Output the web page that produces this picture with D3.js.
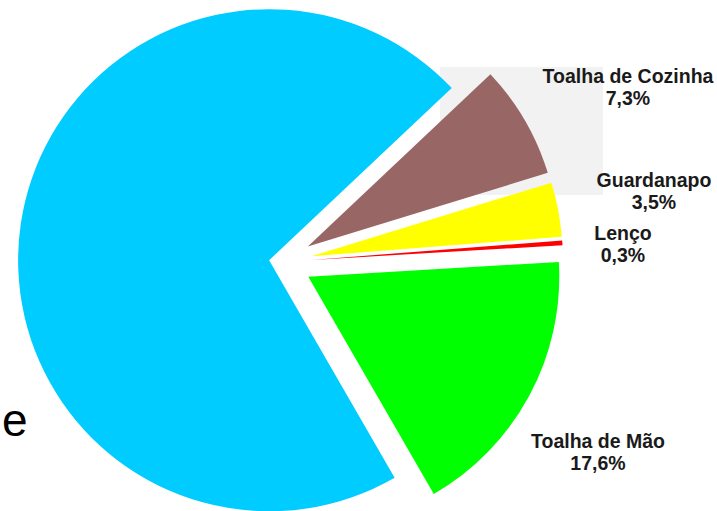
<!DOCTYPE html>
<html>
<head>
<meta charset="utf-8">
<script src="https://cdn.jsdelivr.net/npm/d3@7"></script>
<style>
  html, body { margin: 0; padding: 0; background: #ffffff; }
  svg { display: block; }
</style>
</head>
<body>
<script>
// ---- data ----
const categories = ["Papel Higiênico", "Toalha de Cozinha", "Guardanapo", "Lenço", "Toalha de Mão"];
const values = [71.3, 7.3, 3.5, 0.3, 17.6];
const valueLabels = ["71,3%", "7,3%", "3,5%", "0,3%", "17,6%"];
const colors = ["#00ccff", "#996666", "#ffff00", "#ff0000", "#00ff00"];

// ---- layout ----
const W = 717, H = 511;
const cx = 281, cy = 262, R = 251;
const explode = [12, 31, 31, 31, 31];
const labelPos = [null, [628, 83], [654, 187], [623, 240], [598, 448]];

const svg = d3.select("body").append("svg").attr("width", W).attr("height", H);
svg.append("rect").attr("width", W).attr("height", H).attr("fill", "#ffffff");

// light plot-area shading behind the top-right labels
svg.append("rect").attr("x", 440).attr("y", 67).attr("width", 163).attr("height", 128).attr("fill", "#f2f2f2");

const deg = Math.PI / 180;
const pie = d3.pie().sort(null).value(d => d).startAngle(150 * deg).endAngle(510 * deg);
const arcs = pie(values);
const arc = d3.arc().innerRadius(0).outerRadius(R);

const g = svg.append("g").attr("transform", `translate(${cx},${cy})`);
g.selectAll("path").data(arcs).enter().append("path")
  .attr("d", arc)
  .attr("fill", (d, i) => colors[i])
  .attr("transform", (d, i) => {
    const a = (d.startAngle + d.endAngle) / 2;
    return `translate(${explode[i] * Math.sin(a)},${-explode[i] * Math.cos(a)})`;
  });

// labels
const lab = svg.append("g")
  .attr("font-family", "Liberation Sans, Arial, sans-serif")
  .attr("font-weight", "bold")
  .attr("font-size", 19.5)
  .attr("fill", "#1a1a1a")
  .attr("text-anchor", "middle");
arcs.forEach((d, i) => {
  if (!labelPos[i]) return;
  const t = lab.append("text").attr("x", labelPos[i][0]).attr("y", labelPos[i][1]);
  t.append("tspan").attr("x", labelPos[i][0]).text(categories[i]);
  t.append("tspan").attr("x", labelPos[i][0]).attr("dy", 22).text(valueLabels[i]);
});

// text at the left edge
svg.append("text").attr("x", 2).attr("y", 436).attr("text-anchor", "start")
  .attr("font-family", "Liberation Sans, Arial, sans-serif").attr("font-size", 46)
  .attr("fill", "#000").text("e");
</script>
</body>
</html>
